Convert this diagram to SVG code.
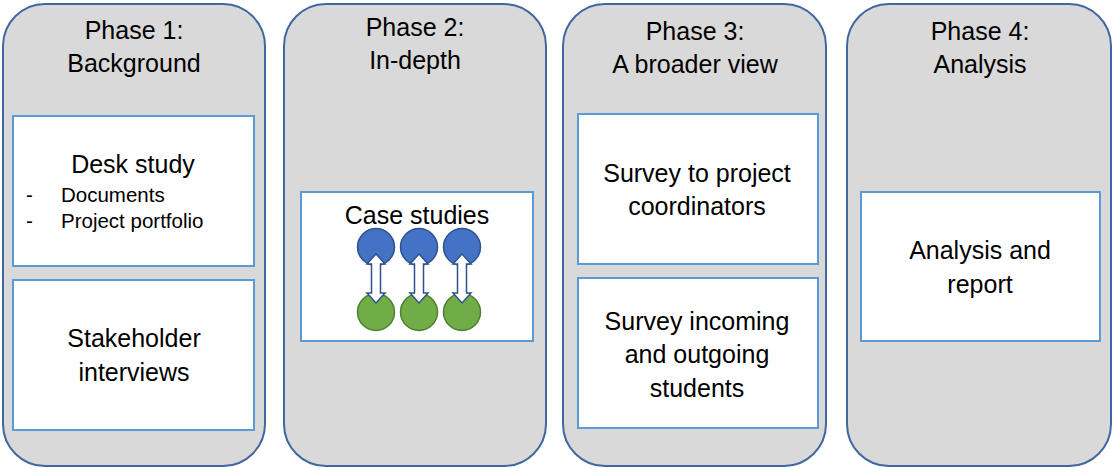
<svg xmlns="http://www.w3.org/2000/svg" width="1113" height="468" viewBox="0 0 1113 468">
<style>
.panel{fill:#d9d9d9;stroke:#41679f;stroke-width:2}
.box{fill:#ffffff;stroke:#5b9bd5;stroke-width:2}
.t{font-family:"Liberation Sans",Arial,sans-serif;font-size:25px;fill:#000;text-anchor:middle}
.s{font-family:"Liberation Sans",Arial,sans-serif;font-size:20.5px;fill:#000}
.blue{fill:#4472c4;stroke:#2f528f;stroke-width:1.5}
.green{fill:#70ad47;stroke:#507e32;stroke-width:1.5}
.arr{fill:#ffffff;stroke:#2f528f;stroke-width:1.5;stroke-linejoin:miter}
</style>
<rect width="1113" height="468" fill="#ffffff"/>
<g id="phase1">
<rect class="panel" x="3" y="4" width="262" height="462" rx="42" ry="42"/>
<text class="t" x="134" y="39">Phase 1:</text>
<text class="t" x="134" y="72">Background</text>
</g>
<g id="desk-study">
<rect class="box" x="13" y="116" width="241" height="150"/>
<text class="t" x="133" y="173">Desk study</text>
<text class="s" x="26" y="202">-</text>
<text class="s" x="61" y="202">Documents</text>
<text class="s" x="26" y="228">-</text>
<text class="s" x="61" y="228">Project portfolio</text>
</g>
<g id="stakeholder-interviews">
<rect class="box" x="13" y="280" width="241" height="150"/>
<text class="t" x="134" y="347">Stakeholder</text>
<text class="t" x="134" y="381">interviews</text>
</g>
<g id="phase2">
<rect class="panel" x="284" y="4" width="262" height="462" rx="42" ry="42"/>
<text class="t" x="415" y="36">Phase 2:</text>
<text class="t" x="415" y="69">In-depth</text>
</g>
<g id="case-studies">
<rect class="box" x="301" y="192" width="232" height="149"/>
<text class="t" x="417" y="224">Case studies</text>
<circle class="blue" cx="376" cy="247" r="18.5"/>
<circle class="blue" cx="419" cy="247" r="18.5"/>
<circle class="blue" cx="462" cy="247" r="18.5"/>
<circle class="green" cx="376" cy="312" r="18.5"/>
<circle class="green" cx="419" cy="312" r="18.5"/>
<circle class="green" cx="462" cy="312" r="18.5"/>
</g>
<g id="connectors">
<path class="arr" d="M376,254 L385,264 L380.5,264 L380.5,293 L385,293 L376,303 L367,293 L371.5,293 L371.5,264 L367,264 Z"/>
<path class="arr" d="M419,254 L428,264 L423.5,264 L423.5,293 L428,293 L419,303 L410,293 L414.5,293 L414.5,264 L410,264 Z"/>
<path class="arr" d="M462,254 L471,264 L466.5,264 L466.5,293 L471,293 L462,303 L453,293 L457.5,293 L457.5,264 L453,264 Z"/>
</g>
<g id="phase3">
<rect class="panel" x="563" y="4" width="263" height="462" rx="42" ry="42"/>
<text class="t" x="695" y="40">Phase 3:</text>
<text class="t" x="695" y="73">A broader view</text>
</g>
<g id="survey-coordinators">
<rect class="box" x="578" y="114" width="240" height="150"/>
<text class="t" x="697" y="182">Survey to project</text>
<text class="t" x="697" y="215">coordinators</text>
</g>
<g id="survey-students">
<rect class="box" x="578" y="278" width="240" height="150"/>
<text class="t" x="697" y="330">Survey incoming</text>
<text class="t" x="697" y="363">and outgoing</text>
<text class="t" x="697" y="397">students</text>
</g>
<g id="phase4">
<rect class="panel" x="847" y="4" width="264" height="462" rx="42" ry="42"/>
<text class="t" x="980" y="40">Phase 4:</text>
<text class="t" x="980" y="73">Analysis</text>
</g>
<g id="analysis-report">
<rect class="box" x="861" y="192" width="239" height="149"/>
<text class="t" x="980" y="259">Analysis and</text>
<text class="t" x="980" y="293">report</text>
</g>
</svg>
